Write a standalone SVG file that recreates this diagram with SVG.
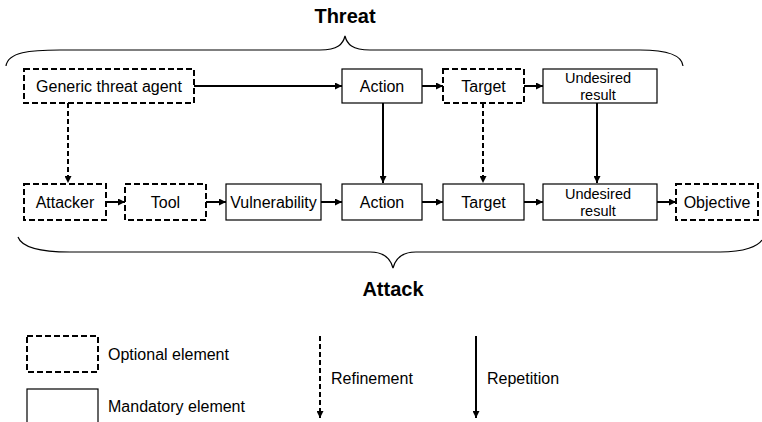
<svg xmlns="http://www.w3.org/2000/svg" width="762" height="422" viewBox="0 0 762 422">
<defs>
<marker id="ah" viewBox="0 0 10 10" refX="10" refY="5" markerWidth="7" markerHeight="7" markerUnits="userSpaceOnUse" orient="auto"><path d="M0,0 L10,5 L0,10 z" fill="#000"/></marker>
<style>
.opt{fill:#fff;stroke:#000;stroke-width:2;stroke-dasharray:6,3}
.man{fill:#fff;stroke:#000;stroke-width:1.2}
.t{font-family:"Liberation Sans",Arial,sans-serif;font-size:16px;fill:#000;text-anchor:middle}
.t2{font-family:"Liberation Sans",Arial,sans-serif;font-size:14.5px;fill:#000;text-anchor:middle}
.l{font-family:"Liberation Sans",Arial,sans-serif;font-size:16px;fill:#000}
.h{font-family:"Liberation Sans",Arial,sans-serif;font-size:20px;font-weight:bold;fill:#000;text-anchor:middle}
.c{stroke:#000;stroke-width:2;fill:none;marker-end:url(#ah)}
.cd{stroke:#000;stroke-width:2;fill:none;stroke-dasharray:5,3;marker-end:url(#ah)}
.br{stroke:#000;stroke-width:1.2;fill:none}
</style>
</defs>
<rect width="762" height="422" fill="#fff"/>
<text class="h" x="345" y="23">Threat</text>
<path class="br" d="M6,66 C8,52 30,50 60,50 L320,50 C338,50 343,44 345,36 C347,44 352,50 370,50 L640,50 C670,50 682,56 683,66"/>
<text class="h" x="393" y="296">Attack</text>
<path class="br" d="M18,237 C22,248 40,252 70,252 L370,252 C385,252 391,260 393,268 C395,260 401,252 416,252 L720,252 C745,252 758,246 762,240"/>
<g id="connectors">
<line class="c" x1="194" y1="86" x2="342" y2="86"/>
<line class="c" x1="422" y1="86" x2="443" y2="86"/>
<line class="c" x1="524" y1="86" x2="543" y2="86"/>
<line class="cd" x1="68" y1="103" x2="68" y2="183"/>
<line class="c" x1="383" y1="103" x2="383" y2="183"/>
<line class="cd" x1="483" y1="103" x2="483" y2="183"/>
<line class="c" x1="597" y1="103" x2="597" y2="183"/>
<line class="c" x1="106" y1="202" x2="125" y2="202"/>
<line class="c" x1="206" y1="202" x2="226" y2="202"/>
<line class="c" x1="321" y1="202" x2="342" y2="202"/>
<line class="c" x1="422" y1="202" x2="443" y2="202"/>
<line class="c" x1="524" y1="202" x2="543" y2="202"/>
<line class="c" x1="657" y1="202" x2="676" y2="202"/>
</g>
<g id="generic"><rect class="opt" x="24" y="69" width="170" height="34"/><text class="t" x="109" y="92">Generic threat agent</text></g>
<g id="action1"><rect class="man" x="342" y="69" width="80" height="34"/><text class="t" x="382" y="92">Action</text></g>
<g id="target1"><rect class="opt" x="443" y="69" width="81" height="34"/><text class="t" x="483.5" y="92">Target</text></g>
<g id="undesired1"><rect class="man" x="543" y="69" width="114" height="34"/><text class="t2" x="598" y="83">Undesired</text><text class="t2" x="598" y="100">result</text></g>
<g id="attacker"><rect class="opt" x="24" y="184" width="82" height="36"/><text class="t" x="65" y="208">Attacker</text></g>
<g id="tool"><rect class="opt" x="125" y="184" width="81" height="36"/><text class="t" x="165.5" y="208">Tool</text></g>
<g id="vulnerability"><rect class="man" x="226" y="184" width="95" height="36"/><text class="t" x="273.5" y="208">Vulnerability</text></g>
<g id="action2"><rect class="man" x="342" y="184" width="80" height="36"/><text class="t" x="382" y="208">Action</text></g>
<g id="target2"><rect class="man" x="443" y="184" width="81" height="36"/><text class="t" x="483.5" y="208">Target</text></g>
<g id="undesired2"><rect class="man" x="543" y="184" width="114" height="36"/><text class="t2" x="598" y="199">Undesired</text><text class="t2" x="598" y="216">result</text></g>
<g id="objective"><rect class="opt" x="676" y="184" width="82" height="36"/><text class="t" x="717" y="208">Objective</text></g>
<g id="legend">
<rect class="opt" x="27" y="336" width="71" height="36"/>
<text class="l" x="108" y="360">Optional element</text>
<rect class="man" x="27" y="389" width="71" height="40"/>
<text class="l" x="108" y="412">Mandatory element</text>
<line class="cd" x1="320" y1="336" x2="320" y2="418"/>
<text class="l" x="331" y="384">Refinement</text>
<line class="c" x1="476" y1="336" x2="476" y2="418"/>
<text class="l" x="487" y="384">Repetition</text>
</g>
</svg>
